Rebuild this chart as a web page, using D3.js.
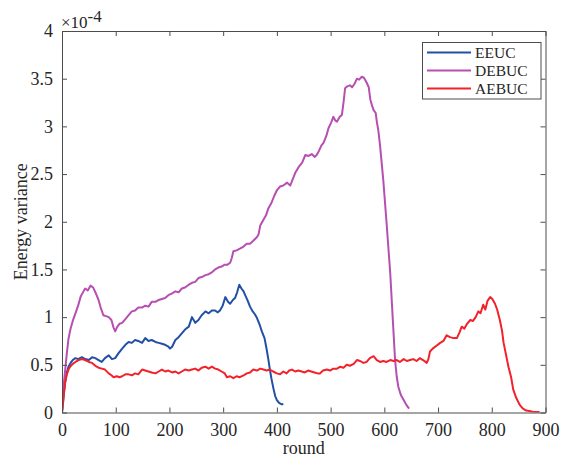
<!DOCTYPE html>
<html><head><meta charset="utf-8">
<script src="https://cdn.jsdelivr.net/npm/d3@7"></script>
<style>body{margin:0;background:#fff;} svg{display:block;} text{font-family:"Liberation Serif","Times New Roman",serif;fill:#262626;}</style>
</head><body>
<svg id="c" width="568" height="459"></svg>
<script>
// ---- data (values in units of 1e-4) ----
const seriesNames = ["EEUC", "DEBUC", "AEBUC"];
const seriesColors = ["#2250a6", "#b74eb2", "#f2212a"];
const xTicks = [0,100,200,300,400,500,600,700,800,900];
const yTicks = [0,0.5,1,1.5,2,2.5,3,3.5,4];

const eeucRounds = [0,3,6,9,12,16,20,25,30,37,43,50,56,62,68,74,80,87,93,99,105,112,118,124,130,136,142,149,155,161,167,174,180,186,192,198,201,205,211,217,223,229,236,242,248,254,260,267,273,279,285,290,294,299,304,309,313,318,322,326,330,334,338,341,345,350,355,359,363,368,372,377,381,384,387,390,394,397,400,404,409,412];
const eeucValues = [0,0.18,0.32,0.42,0.48,0.52,0.55,0.57,0.56,0.58,0.56,0.55,0.58,0.57,0.55,0.53,0.57,0.60,0.56,0.57,0.62,0.67,0.71,0.74,0.73,0.76,0.75,0.73,0.78,0.75,0.76,0.74,0.73,0.72,0.71,0.69,0.67,0.69,0.76,0.79,0.83,0.87,0.90,1.00,0.94,0.97,1.02,1.06,1.04,1.07,1.07,1.05,1.07,1.12,1.21,1.16,1.14,1.18,1.20,1.26,1.34,1.30,1.27,1.23,1.18,1.11,1.06,1.03,0.99,0.92,0.85,0.78,0.66,0.56,0.45,0.35,0.24,0.17,0.13,0.10,0.086,0.09];

const debucRounds = [0,3,6,9,12,16,20,25,30,35,40,43,48,53,58,63,68,72,77,82,87,92,96,99,103,107,112,118,124,130,136,142,149,155,161,167,174,180,186,192,198,205,211,217,223,229,236,242,248,254,260,267,273,279,285,291,297,303,308,313,316,319,325,332,338,344,350,356,363,366,369,375,380,384,390,395,400,406,412,419,425,429,434,440,447,453,459,465,470,474,478,483,487,492,496,501,505,509,512,517,521,524,527,531,536,540,545,549,553,558,562,567,571,574,577,580,584,586,589,592,598,604,611,616,620,623,626,631,636,641,646];
const debucValues = [0,0.28,0.45,0.62,0.77,0.88,0.96,1.04,1.12,1.22,1.27,1.30,1.28,1.33,1.31,1.25,1.18,1.10,1.02,1.01,1.00,0.97,0.89,0.85,0.90,0.93,0.94,0.98,1.02,1.06,1.07,1.10,1.10,1.12,1.11,1.16,1.16,1.18,1.19,1.20,1.23,1.25,1.27,1.26,1.30,1.31,1.34,1.36,1.37,1.41,1.42,1.44,1.45,1.47,1.50,1.52,1.53,1.55,1.55,1.57,1.62,1.69,1.70,1.72,1.74,1.77,1.77,1.80,1.84,1.87,1.96,2.02,2.07,2.14,2.20,2.27,2.33,2.37,2.38,2.41,2.38,2.44,2.51,2.57,2.62,2.70,2.69,2.71,2.68,2.70,2.74,2.80,2.83,2.90,2.98,3.04,3.10,3.06,3.05,3.10,3.12,3.25,3.40,3.42,3.43,3.41,3.45,3.50,3.49,3.52,3.51,3.46,3.41,3.28,3.22,3.17,3.14,3.05,2.95,2.80,2.44,2.00,1.46,0.95,0.55,0.38,0.27,0.18,0.13,0.08,0.04];

const aebucRounds = [0,2,4,6,9,12,15,20,25,31,37,43,50,56,62,68,74,80,87,92,96,102,107,112,118,124,130,136,142,149,155,161,167,174,180,186,192,198,205,211,217,223,229,236,242,248,254,260,267,273,279,285,291,297,303,307,313,319,325,331,338,344,350,356,363,369,375,381,387,393,400,406,412,418,423,428,434,440,446,452,458,464,470,476,480,486,493,499,505,512,518,524,530,536,543,549,555,561,567,573,580,586,592,598,604,611,617,623,629,636,642,648,654,660,666,672,679,682,685,690,697,704,710,716,722,729,735,740,744,749,754,760,765,770,775,779,784,788,792,797,801,806,810,815,819,822,826,831,836,840,845,852,858,864,870,876,882,889];
const aebucValues = [0,0.1,0.22,0.32,0.40,0.45,0.48,0.51,0.53,0.55,0.56,0.55,0.53,0.52,0.49,0.47,0.46,0.45,0.41,0.39,0.37,0.38,0.37,0.38,0.40,0.40,0.39,0.41,0.40,0.45,0.44,0.43,0.42,0.41,0.43,0.45,0.43,0.44,0.42,0.43,0.41,0.43,0.45,0.44,0.45,0.46,0.44,0.47,0.48,0.46,0.48,0.46,0.45,0.43,0.41,0.37,0.38,0.36,0.38,0.37,0.39,0.41,0.42,0.45,0.44,0.46,0.45,0.44,0.45,0.43,0.41,0.40,0.43,0.41,0.44,0.45,0.43,0.44,0.43,0.42,0.44,0.43,0.42,0.41,0.41,0.44,0.45,0.44,0.46,0.46,0.48,0.47,0.50,0.49,0.51,0.55,0.54,0.52,0.53,0.57,0.59,0.55,0.53,0.54,0.53,0.55,0.54,0.55,0.53,0.56,0.54,0.55,0.56,0.54,0.57,0.55,0.52,0.56,0.64,0.67,0.70,0.73,0.75,0.81,0.79,0.78,0.78,0.84,0.90,0.88,0.93,0.97,0.96,1.00,1.06,1.04,1.13,1.08,1.17,1.21,1.19,1.14,1.08,0.97,0.86,0.73,0.62,0.48,0.37,0.24,0.16,0.08,0.04,0.02,0.016,0.008,0.005,0.005];

const seriesData = [
  d3.zip(eeucRounds, eeucValues),
  d3.zip(debucRounds, debucValues),
  d3.zip(aebucRounds, aebucValues)
];

// ---- layout ----
const L = 62, R = 545.5, T = 31, B = 412.5;
const svg = d3.select("#c");
const x = d3.scaleLinear().domain([0, 900]).range([L, R]);
const y = d3.scaleLinear().domain([0, 4]).range([B, T]);
const axisCol = "#262626", boxCol = "#4d4d4d";

svg.append("rect").attr("x", L).attr("y", T).attr("width", R - L).attr("height", B - T).attr("fill", "#fff");

svg.append("defs").append("clipPath").attr("id", "clip")
  .append("rect").attr("x", L).attr("y", T - 2).attr("width", R - L).attr("height", B - T + 2);

// lines
const line = d3.line().x(d => x(d[0])).y(d => y(d[1]));
const g = svg.append("g").attr("clip-path", "url(#clip)");
seriesData.forEach((s, i) => {
  g.append("path").datum(s).attr("d", line).attr("fill", "none")
    .attr("stroke", seriesColors[i]).attr("stroke-width", 2).attr("stroke-linejoin", "round");
});

// axes (ticks inward)
const fs = "18px";
const xb = svg.append("g").attr("transform", `translate(0,${B})`)
  .call(d3.axisBottom(x).tickValues(xTicks).tickFormat(d3.format("d")).tickSizeInner(-5).tickSizeOuter(0).tickPadding(11));
const xt = svg.append("g").attr("transform", `translate(0,${T})`)
  .call(d3.axisTop(x).tickValues(xTicks).tickFormat("").tickSizeInner(-5).tickSizeOuter(0));
const yl = svg.append("g").attr("transform", `translate(${L},0)`)
  .call(d3.axisLeft(y).tickValues(yTicks).tickFormat(d => d3.format("")(d)).tickSizeInner(-5).tickSizeOuter(0).tickPadding(9));
const yr = svg.append("g").attr("transform", `translate(${R},0)`)
  .call(d3.axisRight(y).tickValues(yTicks).tickFormat("").tickSizeInner(-5).tickSizeOuter(0));
[xb, xt, yl, yr].forEach(a => {
  a.select(".domain").attr("stroke", boxCol).attr("stroke-width", 1);
  a.selectAll(".tick line").attr("stroke", boxCol);
  a.selectAll(".tick text").attr("font-family", '"Liberation Serif",serif').attr("font-size", fs).attr("fill", axisCol);
});

// labels
svg.append("text").attr("x", (L + R) / 2).attr("y", 454).attr("text-anchor", "middle").attr("font-size", fs).text("round");
svg.append("text").attr("transform", `translate(27,${(T + B) / 2}) rotate(-90)`).attr("text-anchor", "middle").attr("font-size", fs).text("Energy variance");
const ex = svg.append("text").attr("x", 61).attr("y", 28).attr("font-size", "17px");
ex.append("tspan").text("×10");
ex.append("tspan").attr("dy", -6).text("-4");

// legend
const lg = svg.append("g");
lg.append("rect").attr("x", 422.5).attr("y", 42.5).attr("width", 118.5).attr("height", 56.5)
  .attr("fill", "#fff").attr("stroke", boxCol).attr("stroke-width", 1);
seriesNames.forEach((n, i) => {
  const yy = 52.5 + i * 18;
  lg.append("line").attr("x1", 427).attr("x2", 471).attr("y1", yy).attr("y2", yy)
    .attr("stroke", seriesColors[i]).attr("stroke-width", 2);
  lg.append("text").attr("x", 475).attr("y", yy + 5.5).attr("font-size", "15.5px").text(n);
});
</script>
</body></html>
